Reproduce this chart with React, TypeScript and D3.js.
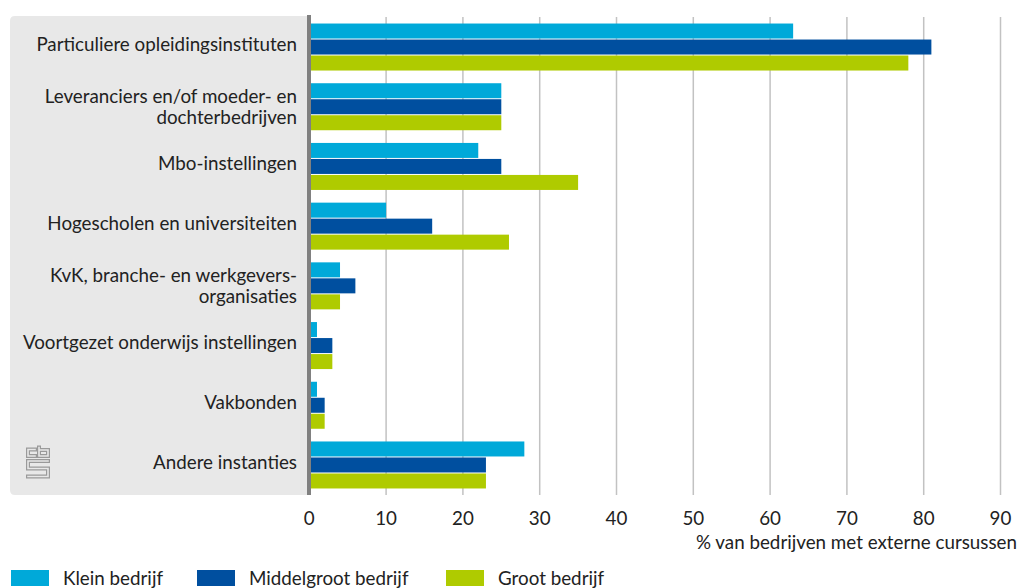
import React from "react";
import * as d3 from "d3";

// Categories (top to bottom); multi-line labels use "\n"
const categories = [
  "Particuliere opleidingsinstituten",
  "Leveranciers en/of moeder- en\ndochterbedrijven",
  "Mbo-instellingen",
  "Hogescholen en universiteiten",
  "KvK, branche- en werkgevers-\norganisaties",
  "Voortgezet onderwijs instellingen",
  "Vakbonden",
  "Andere instanties",
];

const seriesNames = ["Klein bedrijf", "Middelgroot bedrijf", "Groot bedrijf"];

const klein = [63, 25, 22, 10, 4, 1, 1, 28];
const middelgroot = [81, 25, 25, 16, 6, 3, 2, 23];
const groot = [78, 25, 35, 26, 4, 3, 2, 23];

const xTicks = [0, 10, 20, 30, 40, 50, 60, 70, 80, 90];
const xTitle = "% van bedrijven met externe cursussen";

const colors = ["#00a9d9", "#004f9f", "#afcb00"];

const W = 1018;
const H = 588;
const FONT = "Lato, 'Open Sans', sans-serif";
const FS = 18.8;
const TEXT = "#222";

export default function App() {
  const series = [klein, middelgroot, groot];

  const x = d3.scaleLinear().domain([0, 90]).range([309.3, 1000.5]);
  const y = d3
    .scaleBand<string>()
    .domain(categories)
    .range([16, 496])
    .paddingInner(0.2127)
    .paddingOuter(0.126);
  const ySub = d3
    .scaleBand<string>()
    .domain(seriesNames)
    .range([0, y.bandwidth()])
    .paddingInner(1 / 16);

  const plotTop = 17;
  const plotBottom = 495;

  // legend layout
  const legendX = [11, 197, 446];

  return (
    <svg
      width={W}
      height={H}
      style={{ position: "absolute", left: 0, top: 0, display: "block" }}
      fontFamily={FONT}
    >
      <rect x={0} y={0} width={W} height={H} fill="#fff" />

      {/* label panel */}
      <path
        d={`M307,16 H15 Q10,16 10,21 V490 Q10,495 15,495 H307 Z`}
        fill="#e8e8e8"
      />

      {/* vertical gridlines */}
      {xTicks
        .filter((t) => t > 0)
        .map((t) => (
          <line
            key={t}
            x1={x(t)}
            x2={x(t)}
            y1={plotTop}
            y2={plotBottom}
            stroke="#c2c2c2"
            strokeWidth={1.5}
          />
        ))}

      {/* bars */}
      {categories.map((c, i) => (
        <g key={c} transform={`translate(0,${y(c)})`}>
          {series.map((s, j) => (
            <rect
              key={j}
              x={x(0)}
              y={ySub(seriesNames[j])}
              width={x(s[i]) - x(0)}
              height={ySub.bandwidth()}
              fill={colors[j]}
            />
          ))}
        </g>
      ))}

      {/* value axis baseline */}
      <rect x={307} y={15} width={4} height={480} fill="#808080" />

      {/* category labels */}
      {categories.map((c) => {
        const lines = c.split("\n");
        const cy = (y(c) as number) + y.bandwidth() / 2;
        const lh = 21;
        const first = cy + 3.8 - (lines.length - 1) * 8;
        return (
          <text
            key={c}
            x={297}
            y={first}
            textAnchor="end"
            fontSize={FS}
            fill={TEXT}
          >
            {lines.map((l, k) => (
              <tspan key={k} x={297} dy={k === 0 ? 0 : lh}>
                {l}
              </tspan>
            ))}
          </text>
        );
      })}

      {/* logo */}
      <g fill="none" strokeLinejoin="miter" strokeLinecap="square">
        {[
          { w: 4, c: "#9a9a9a" },
          { w: 1.6, c: "#e8e8e8" },
        ].map((st, k) => (
          <g key={k} stroke={st.c} strokeWidth={st.w}>
            <path d="M35,449.5 H28 V456 H35" />
            <path d="M39,447.5 V456 H48 V450 H39" />
            <path d="M48,461 H28 V468.5 H48 V476.5 H28" />
          </g>
        ))}
      </g>

      {/* x tick labels */}
      {xTicks.map((t) => (
        <text
          key={t}
          x={x(t)}
          y={525}
          textAnchor="middle"
          fontSize={FS}
          fill={TEXT}
        >
          {t}
        </text>
      ))}
      <text x={1017} y={548.5} textAnchor="end" fontSize={FS} fill={TEXT}>
        {xTitle}
      </text>

      {/* legend */}
      {seriesNames.map((n, j) => (
        <g key={n}>
          <rect x={legendX[j]} y={570} width={38} height={16} fill={colors[j]} />
          <text x={legendX[j] + 52} y={584.5} fontSize={FS} fill={TEXT}>
            {n}
          </text>
        </g>
      ))}
    </svg>
  );
}
